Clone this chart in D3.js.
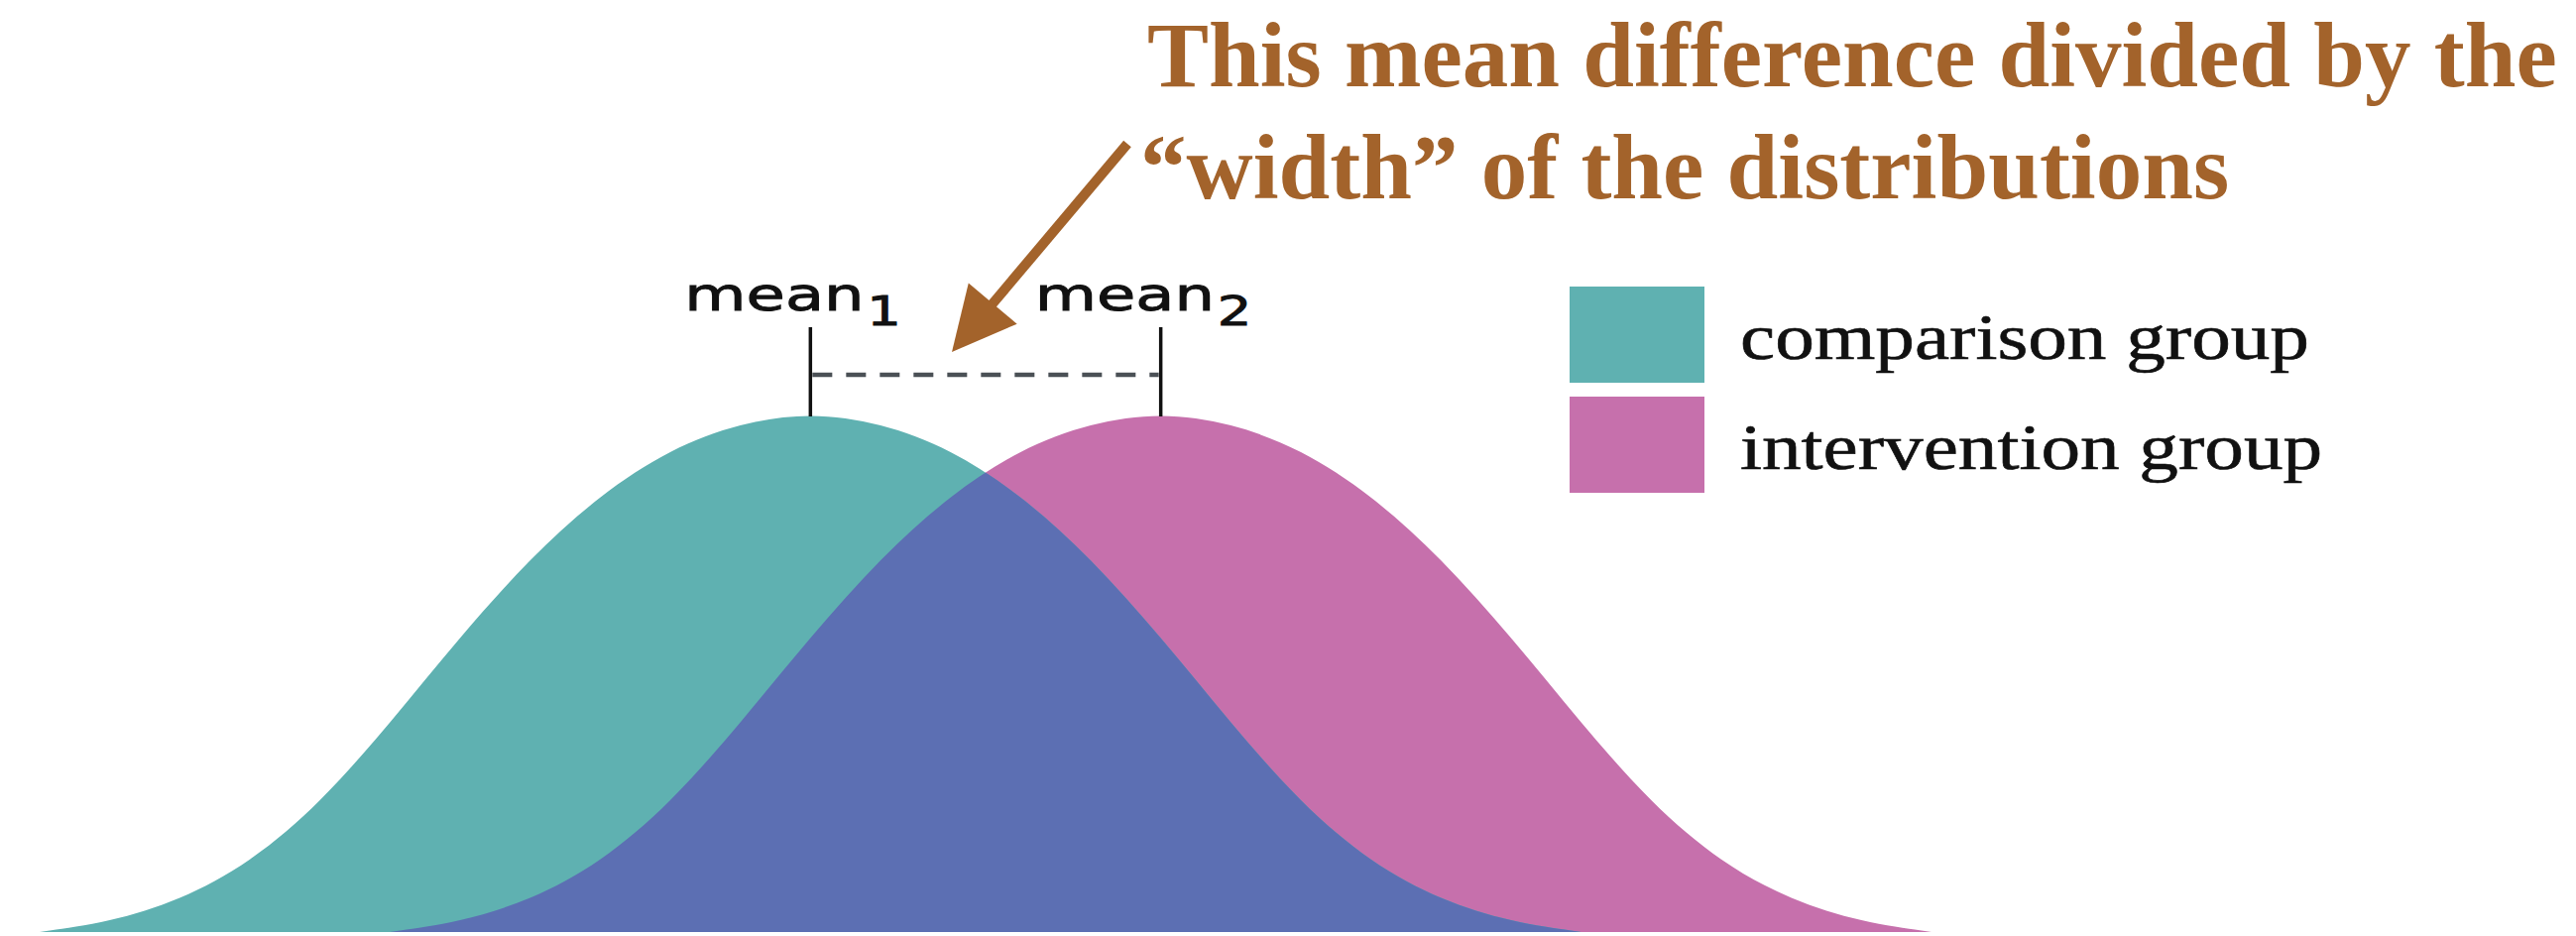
<!DOCTYPE html>
<html lang="en">
  <head>
    <meta charset="utf-8">
    <title>Effect size</title>
    <script type="text/javascript" src="https://cdn.jsdelivr.net/npm/d3@7"></script>
    <style>
      body { margin: 0; background: #ffffff; }
    </style>
  </head>
  <body>
    <script type="text/javascript">
    // density curves (x in score units, density relative to peak)
    var comparisonX = [-2.75, -2.5, -2.25, -2, -1.75, -1.5, -1.25, -1, -0.75, -0.5, -0.25, 0,
                       0.25, 0.5, 0.75, 1, 1.25, 1.5, 1.75, 2, 2.25, 2.5, 2.75];
    var comparisonDensity = [0, 0.019, 0.061, 0.133, 0.247, 0.402, 0.568, 0.72, 0.842, 0.93, 0.98, 1,
                             0.98, 0.93, 0.842, 0.72, 0.568, 0.402, 0.247, 0.133, 0.061, 0.019, 0];

    var interventionX = [-1.5, -1.25, -1, -0.75, -0.5, -0.25, 0, 0.25, 0.5, 0.75, 1, 1.25,
                         1.5, 1.75, 2, 2.25, 2.5, 2.75, 3, 3.25, 3.5, 3.75, 4];
    var interventionDensity = [0, 0.019, 0.061, 0.133, 0.247, 0.402, 0.568, 0.72, 0.842, 0.93, 0.98, 1,
                               0.98, 0.93, 0.842, 0.72, 0.568, 0.402, 0.247, 0.133, 0.061, 0.019, 0];

    var means = [0, 1.25];
    var meanLabels = ["1", "2"];
    var groups = ["comparison group", "intervention group"];
    var titleLines = ["This mean difference divided by the", "\u201cwidth\u201d of the distributions"];

    var colors = {comparison: "#5fb1b1", intervention: "#c670ac", overlap: "#5c6fb3"};
    var brown = "#a3632b";

    var w = 2598;
    var h = 944;

    var svg = d3.select("body")
                .append("svg")
                .attr("width", w)
                .attr("height", h);

    svg.append("rect")
       .attr("width", w)
       .attr("height", h)
       .attr("fill", "#ffffff");

    // scales
    var xScale = d3.scaleLinear()
                   .domain([-2.75, 4])
                   .range([40, 1948]);
    var yScale = d3.scaleLinear()
                   .domain([0, 1])
                   .range([940, 416]);

    var toPoints = function(xs, ys) {
      return xs.map(function(x, i) { return [x, ys[i]]; });
    };
    var comparison = toPoints(comparisonX, comparisonDensity);
    var intervention = toPoints(interventionX, interventionDensity);

    // basis curve keeps the bells smooth like the original
    var area = d3.area()
                 .x(function(d) { return xScale(d[0]); })
                 .y0(yScale(0))
                 .y1(function(d) { return yScale(d[1]); })
                 .curve(d3.curveBasis);

    // clip for the overlapping part
    svg.append("clipPath")
       .attr("id", "clip-intervention")
       .append("path")
       .attr("d", area(intervention));

    svg.append("path")
       .attr("d", area(intervention))
       .attr("fill", colors.intervention);

    svg.append("path")
       .attr("d", area(comparison))
       .attr("fill", colors.comparison);

    svg.append("path")
       .attr("d", area(comparison))
       .attr("clip-path", "url(#clip-intervention)")
       .attr("fill", colors.overlap);

    // mean markers
    svg.selectAll("line.mean")
       .data(means)
       .enter()
       .append("line")
       .attr("class", "mean")
       .attr("x1", function(d) { return xScale(d); })
       .attr("x2", function(d) { return xScale(d); })
       .attr("y1", 330)
       .attr("y2", yScale(1) + 4)
       .attr("stroke", "#111111")
       .attr("stroke-width", 3.5);

    svg.append("line")
       .attr("x1", xScale(means[0]) + 2)
       .attr("x2", xScale(means[1]) - 2)
       .attr("y1", 378)
       .attr("y2", 378)
       .attr("stroke", "#4a5055")
       .attr("stroke-width", 4.5)
       .attr("stroke-dasharray", "20,14");

    // mean labels, stretched wide like the original
    var labels = svg.selectAll("g.meanlabel")
       .data(means)
       .enter()
       .append("g")
       .attr("class", "meanlabel")
       .attr("transform", function(d) {
         return "translate(" + (xScale(d) - 127) + ",313) scale(1.36,1)";
       });

    var lt = labels.append("text")
       .attr("font-family", "'DejaVu Sans', sans-serif")
       .attr("font-size", 47)
       .attr("fill", "#111111")
       .attr("stroke", "#111111")
       .attr("stroke-width", 0.9);
    lt.append("tspan").text("mean");
    lt.append("tspan")
      .attr("font-size", 40)
      .attr("dy", 15)
      .attr("dx", 2)
      .text(function(d, i) { return meanLabels[i]; });

    // legend
    var legend = svg.selectAll("g.legend")
       .data(groups)
       .enter()
       .append("g")
       .attr("class", "legend")
       .attr("transform", function(d, i) { return "translate(1583," + (289 + i * 111) + ")"; });

    legend.append("rect")
          .attr("width", 136)
          .attr("height", 97)
          .attr("fill", function(d, i) { return i === 0 ? colors.comparison : colors.intervention; });

    legend.append("text")
          .attr("transform", "translate(172,73) scale(1.2,1)")
          .attr("font-family", "'Liberation Serif', 'Times New Roman', serif")
          .attr("font-size", 66)
          .attr("fill", "#111111")
          .attr("stroke", "#111111")
          .attr("stroke-width", 0.6)
          .text(function(d) { return d; });

    // title
    svg.selectAll("text.title")
       .data(titleLines)
       .enter()
       .append("text")
       .attr("class", "title")
       .attr("x", function(d, i) { return i === 0 ? 1157 : 1150; })
       .attr("y", function(d, i) { return 87 + i * 113; })
       .attr("font-family", "'Liberation Serif', 'Times New Roman', serif")
       .attr("font-weight", "bold")
       .attr("font-size", 93)
       .attr("fill", brown)
       .text(function(d) { return d; });

    // arrow pointing at the mean difference
    var tail = [1137, 145], tip = [960, 355];
    var dx = tip[0] - tail[0], dy = tip[1] - tail[1];
    var len = Math.sqrt(dx * dx + dy * dy);
    var ux = dx / len, uy = dy / len;
    var headLen = 64, headHalf = 32;
    var base = [tip[0] - ux * headLen, tip[1] - uy * headLen];

    svg.append("line")
       .attr("x1", tail[0])
       .attr("y1", tail[1])
       .attr("x2", base[0] + ux * 4)
       .attr("y2", base[1] + uy * 4)
       .attr("stroke", brown)
       .attr("stroke-width", 10);

    svg.append("path")
       .attr("d", "M" + tip[0] + "," + tip[1] +
                  "L" + (base[0] - uy * headHalf) + "," + (base[1] + ux * headHalf) +
                  "L" + (base[0] + uy * headHalf) + "," + (base[1] - ux * headHalf) + "Z")
       .attr("fill", brown);

    </script>
  </body>
</html>
